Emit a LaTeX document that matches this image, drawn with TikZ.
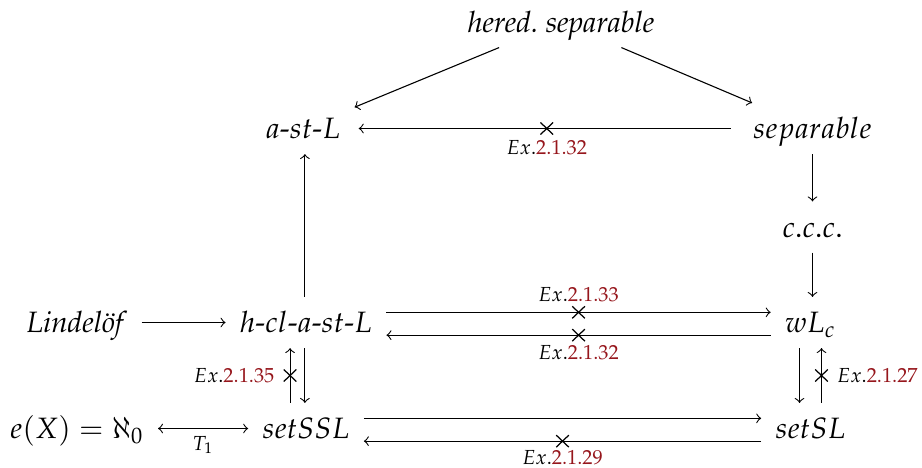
\documentclass[tikz,border=0pt]{standalone}
\usepackage[T1]{fontenc}
\usepackage{mathpazo}
\usepackage{amsmath}
\definecolor{exred}{RGB}{150,22,28}
\newcommand{\exlbl}[1]{$Ex.$\textcolor{exred}{#1}}
\begin{document}
\begin{tikzpicture}[x=0.3636pt, y=-0.3636pt, >=to, line width=0.4pt,
  obj/.style={inner xsep=5pt, inner ysep=4pt, text height=8.8pt, text depth=1.4pt, font=\fontsize{10.7pt}{13pt}\selectfont},
  xm/.pic={\draw[line width=0.45pt, -, shorten <=0pt, shorten >=0pt] (-6.3,-6) -- (6.3,6) (-6.3,6) -- (6.3,-6);},
  lbl/.style={font=\fontsize{7.4pt}{9pt}\selectfont, inner sep=1.5pt}]
\useasboundingbox (0,0) rectangle (922,468);
\node[obj] (her)  at (561,22)    {\textit{hered.\ separable}};
\node[obj] (ast)  at (303,128.5) {$a\text{-}st\text{-}L$};
\node[obj] (sep)  at (812.5,128.5) {$separable$};
\node[obj] (ccc)  at (812.5,227) {$c.c.c.$};
\node[obj] (lind) at (77,322.5)  {\textit{Lindel\"of}};
\node[obj] (hcl)  at (306,322.5) {$h\text{-}cl\text{-}a\text{-}st\text{-}L$};
\node[obj] (wlc)  at (810.5,322.5) {$wL_c$};
\node[obj] (ex)   at (77,428.5)  {$e(X) = \aleph_0$};
\node[obj] (ssl)  at (306,428.5) {$setSSL$};
\node[obj] (sl)   at (810.5,428.5) {$setSL$};

\draw[->] (her) -- (ast);
\draw[->] (her) -- (sep);
\draw[->, shorten <=3pt, shorten >=1.5pt] (sep) -- pic[midway]{xm} node[midway, lbl, below=2.5pt]{\exlbl{2.1.32}} (ast);
\draw[->] (sep) -- (ccc);
\draw[->] (ccc) -- (wlc.north -| ccc);
\draw[->] ([xshift=-0.4pt]hcl.north) -- ([xshift=-0.4pt]hcl.north |- ast.south);
\draw[->] (lind) -- (hcl);
\draw[->] ([yshift=3.7pt]hcl.east) -- pic[midway]{xm} node[midway, lbl, above=2pt]{\exlbl{2.1.33}} ([yshift=3.7pt]wlc.west);
\draw[->] ([yshift=-4.6pt]wlc.west) -- pic[midway]{xm} node[midway, lbl, below=2pt]{\exlbl{2.1.32}} ([yshift=-4.6pt]hcl.east);
\draw[->] ([xshift=-0.4pt]hcl.south) -- ([xshift=-0.4pt]ssl.north);
\draw[->] ([xshift=-5.8pt]ssl.north) -- pic[midway]{xm} node[midway, lbl, left=4pt]{\exlbl{2.1.35}} ([xshift=-5.8pt]hcl.south);
\draw[->] ([xshift=-4pt]wlc.south) -- ([xshift=-4pt]sl.north);
\draw[->] ([xshift=4pt]sl.north) -- pic[midway]{xm} node[midway, lbl, right=4pt]{\exlbl{2.1.27}} ([xshift=4pt]wlc.south);
\draw[<->] (ex) -- node[lbl, below=1pt]{$T_1$} (ssl);
\draw[->] ([yshift=3.7pt]ssl.east) -- ([yshift=3.7pt]sl.west);
\draw[->] ([yshift=-4.6pt]sl.west) -- pic[midway]{xm} node[midway, lbl, below=1.5pt]{\exlbl{2.1.29}} ([yshift=-4.6pt]ssl.east);
\end{tikzpicture}
\end{document}
